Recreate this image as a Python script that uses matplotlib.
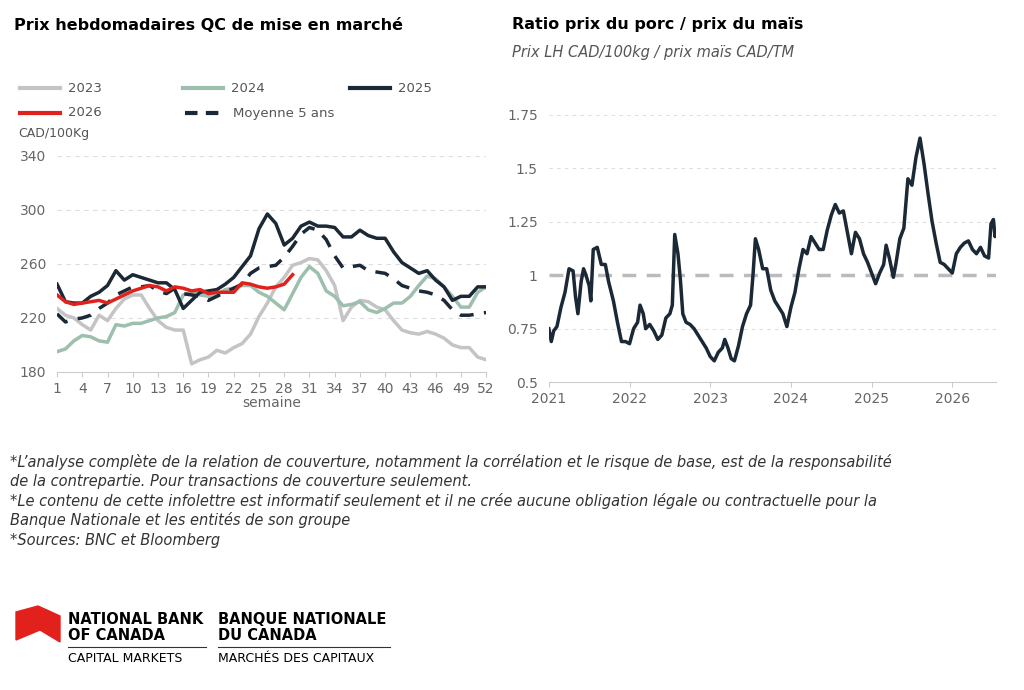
import numpy as np
import matplotlib
matplotlib.use("Agg")
import matplotlib.pyplot as plt
from matplotlib.lines import Line2D
from matplotlib.patches import Polygon

# --- left chart: weekly prices, CAD/100kg ---
weeks = np.arange(1, 53)
p2023 = [227, 222, 220, 215, 211, 222, 218, 227, 234, 237, 237, 227, 218, 213, 211, 211, 186, 189, 191, 196,
         194, 198, 201, 208, 221, 231, 243, 250, 259, 261, 264, 263, 255, 244, 218, 228, 233, 232, 228, 226,
         218, 211, 209, 208, 210, 208, 205, 200, 198, 198, 191, 189]
p2024 = [195, 197, 203, 207, 206, 203, 202, 215, 214, 216, 216, 218, 220, 221, 224, 237, 239, 237, 236, 237,
         241, 242, 244, 244, 239, 236, 231, 226, 238, 250, 258, 253, 240, 236, 229, 230, 232, 226, 224, 227,
         231, 231, 236, 244, 251, 249, 243, 236, 228, 228, 239, 243]
p2025 = [245, 232, 231, 231, 236, 239, 244, 255, 248, 252, 250, 248, 246, 246, 241, 227, 233, 239, 240, 241,
         245, 250, 258, 266, 286, 297, 290, 274, 279, 288, 291, 288, 288, 287, 280, 280, 285, 281, 279, 279,
         269, 261, 257, 253, 255, 248, 243, 233, 236, 236, 243, 243]
p2026 = [237, 232, 230, 231, 232, 233, 231, 234, 237, 240, 242, 244, 243, 240, 243, 242, 240, 241, 238, 239,
         239, 239, 246, 245, 243, 242, 243, 245, 252]
avg5 = [223, 217, 219, 220, 222, 227, 231, 237, 240, 243, 243, 244, 240, 238, 242, 238, 237, 236, 233, 236,
        239, 242, 245, 253, 257, 258, 259, 265, 273, 282, 287, 285, 278, 266, 257, 258, 259, 255, 254, 253,
        249, 244, 242, 240, 239, 237, 233, 226, 222, 222, 223, 224]

# --- right chart: hog / corn price ratio ---
r_t = [2021.0, 2021.03, 2021.06, 2021.1, 2021.15, 2021.2, 2021.25, 2021.3, 2021.33, 2021.36, 2021.4, 2021.43,
       2021.46, 2021.5, 2021.52, 2021.55, 2021.6, 2021.65, 2021.7, 2021.74, 2021.8, 2021.85, 2021.9, 2021.95,
       2022.0, 2022.05, 2022.1, 2022.13, 2022.17, 2022.2, 2022.25, 2022.3, 2022.35, 2022.4, 2022.45, 2022.5,
       2022.53, 2022.56, 2022.6, 2022.63, 2022.66, 2022.7, 2022.75, 2022.8, 2022.85, 2022.9, 2022.95,
       2023.0, 2023.05, 2023.1, 2023.15, 2023.18, 2023.22, 2023.26, 2023.3, 2023.35, 2023.4, 2023.45, 2023.5,
       2023.53, 2023.56, 2023.6, 2023.65, 2023.7, 2023.75, 2023.8, 2023.85, 2023.9, 2023.95,
       2024.0, 2024.05, 2024.1, 2024.15, 2024.2, 2024.25, 2024.3, 2024.35, 2024.4, 2024.45, 2024.5, 2024.55,
       2024.6, 2024.65, 2024.7, 2024.75, 2024.8, 2024.85, 2024.9, 2024.95,
       2025.0, 2025.05, 2025.1, 2025.15, 2025.18, 2025.22, 2025.27, 2025.3, 2025.35, 2025.4, 2025.45, 2025.5,
       2025.55, 2025.6, 2025.65, 2025.7, 2025.75, 2025.8, 2025.85, 2025.9, 2025.95,
       2026.0, 2026.05, 2026.1, 2026.15, 2026.2, 2026.25, 2026.3, 2026.35, 2026.4, 2026.45, 2026.48, 2026.51,
       2026.53, 2026.54]
r_v = [0.75, 0.69, 0.74, 0.76, 0.85, 0.92, 1.03, 1.02, 0.90, 0.82, 0.97, 1.03,
       1.00, 0.95, 0.88, 1.12, 1.13, 1.05, 1.05, 0.97, 0.88, 0.78, 0.69, 0.69,
       0.68, 0.75, 0.78, 0.86, 0.82, 0.75, 0.77, 0.74, 0.70, 0.72, 0.80, 0.82,
       0.86, 1.19, 1.10, 0.98, 0.82, 0.78, 0.77, 0.75, 0.72, 0.69, 0.66,
       0.62, 0.60, 0.64, 0.66, 0.70, 0.66, 0.61, 0.60, 0.67, 0.76, 0.82, 0.86,
       1.00, 1.17, 1.12, 1.03, 1.03, 0.93, 0.88, 0.85, 0.82, 0.76,
       0.85, 0.92, 1.03, 1.12, 1.10, 1.18, 1.15, 1.12, 1.12, 1.21, 1.28, 1.33,
       1.29, 1.30, 1.20, 1.10, 1.20, 1.17, 1.10, 1.06,
       1.01, 0.96, 1.01, 1.05, 1.14, 1.08, 0.99, 1.05, 1.17, 1.22, 1.45, 1.42,
       1.55, 1.64, 1.52, 1.38, 1.25, 1.15, 1.06, 1.05, 1.03,
       1.01, 1.10, 1.13, 1.15, 1.16, 1.12, 1.10, 1.13, 1.09, 1.08, 1.24, 1.26,
       1.18, 1.21]

DARK = "#1b2835"
GRAY = "#c4c4c4"
GREEN = "#9dbfae"
RED = "#e3211c"
TICK = "#666666"

fig = plt.figure(figsize=(10.24, 6.9), dpi=100)

# left axes
ax = fig.add_axes([0.0557, 0.461, 0.419, 0.313])
ax.plot(weeks, p2023, color=GRAY, lw=2.5)
ax.plot(weeks, p2024, color=GREEN, lw=2.5)
ax.plot(weeks, avg5, color=DARK, lw=2.5, ls=(0, (4, 3)))
ax.plot(weeks, p2025, color=DARK, lw=2.5)
ax.plot(weeks[:len(p2026)], p2026, color=RED, lw=2.5)
ax.set_xlim(1, 52)
ax.set_ylim(180, 340)
ax.set_yticks([180, 220, 260, 300, 340])
ax.set_xticks(np.arange(1, 53, 3))
ax.set_xlabel("semaine", color=TICK, fontsize=10, labelpad=0)
for y in [220, 260, 300, 340]:
    ax.axhline(y, color="#dddddd", lw=0.8, ls=(0, (4, 4)), zorder=0)

# right axes
ax2 = fig.add_axes([0.536, 0.446, 0.4365, 0.388])
ax2.plot(r_t, r_v, color=DARK, lw=2.5)
ax2.axhline(1.0, color="#bbbbbb", lw=2.5, ls=(0, (4, 3)), zorder=0)
for y in [0.75, 1.25, 1.5, 1.75]:
    ax2.axhline(y, color="#dddddd", lw=0.8, ls=(0, (3, 4)), zorder=0)
ax2.set_xlim(2021, 2026.54)
ax2.set_ylim(0.5, 1.75)
ax2.set_yticks([0.5, 0.75, 1, 1.25, 1.5, 1.75])
ax2.set_yticklabels(["0.5", "0.75", "1", "1.25", "1.5", "1.75"])
ax2.set_xticks([2021, 2022, 2023, 2024, 2025, 2026])

for a in (ax, ax2):
    for s in ["top", "right"]:
        a.spines[s].set_visible(False)
    a.spines["left"].set_visible(False)
    a.spines["bottom"].set_color("#cccccc")
    a.tick_params(axis="y", length=0, labelcolor=TICK, labelsize=10, pad=8)
    a.tick_params(axis="x", color="#cccccc", labelcolor=TICK, labelsize=10)

# legend for left chart
def leg(x0, y0, color, label, ls="-"):
    fig.add_artist(Line2D([x0 / 1024, (x0 + 40) / 1024], [1 - y0 / 690] * 2, color=color, lw=3, ls=ls))
    fig.text((x0 + 48) / 1024, 1 - y0 / 690, label, color="#555555", fontsize=9.5, va="center")

leg(20, 88, GRAY, "2023")
leg(183, 88, GREEN, "2024")
leg(350, 88, DARK, "2025")
leg(20, 113, RED, "2026")
leg(185, 113, DARK, "Moyenne 5 ans", ls=(0, (3, 2)))
fig.text(18 / 1024, 1 - 134 / 690, "CAD/100Kg", color="#555555", fontsize=9, va="center")

fig.text(14 / 1024, 1 - 25 / 690, "Prix hebdomadaires QC de mise en marché", fontsize=11.5,
         fontweight="bold", va="center")
fig.text(512 / 1024, 1 - 25 / 690, "Ratio prix du porc / prix du maïs", fontsize=11.5,
         fontweight="bold", va="center")
fig.text(512 / 1024, 1 - 53 / 690, "Prix LH CAD/100kg / prix maïs CAD/TM", fontsize=10.5,
         style="italic", color="#555555", va="center")

notes = ["*L’analyse complète de la relation de couverture, notamment la corrélation et le risque de base, est de la responsabilité",
         "de la contrepartie. Pour transactions de couverture seulement.",
         "*Le contenu de cette infolettre est informatif seulement et il ne crée aucune obligation légale ou contractuelle pour la",
         "Banque Nationale et les entités de son groupe",
         "*Sources: BNC et Bloomberg"]
for i, line in enumerate(notes):
    fig.text(10 / 1024, 1 - (462 + i * 19.5) / 690, line, fontsize=10.5, style="italic",
             color="#333333", va="center")

# logo
flag = Polygon([(16 / 1024, 1 - 612 / 690), (38 / 1024, 1 - 606 / 690), (60 / 1024, 1 - 616 / 690),
                (60 / 1024, 1 - 642 / 690), (40 / 1024, 1 - 630 / 690), (16 / 1024, 1 - 640 / 690)],
               closed=True, color=RED, transform=fig.transFigure)
fig.add_artist(flag)
fig.text(68 / 1024, 1 - 619 / 690, "NATIONAL BANK", fontsize=10.5, fontweight="bold", va="center")
fig.text(68 / 1024, 1 - 635 / 690, "OF CANADA", fontsize=10.5, fontweight="bold", va="center")
fig.text(68 / 1024, 1 - 659 / 690, "CAPITAL MARKETS", fontsize=9, va="center")
fig.text(218 / 1024, 1 - 619 / 690, "BANQUE NATIONALE", fontsize=10.5, fontweight="bold", va="center")
fig.text(218 / 1024, 1 - 635 / 690, "DU CANADA", fontsize=10.5, fontweight="bold", va="center")
fig.text(218 / 1024, 1 - 659 / 690, "MARCHÉS DES CAPITAUX", fontsize=9, va="center")
fig.add_artist(Line2D([68 / 1024, 206 / 1024], [1 - 647 / 690] * 2, color="#333333", lw=0.8))
fig.add_artist(Line2D([218 / 1024, 390 / 1024], [1 - 647 / 690] * 2, color="#333333", lw=0.8))

fig.savefig("out.png", dpi=100)
